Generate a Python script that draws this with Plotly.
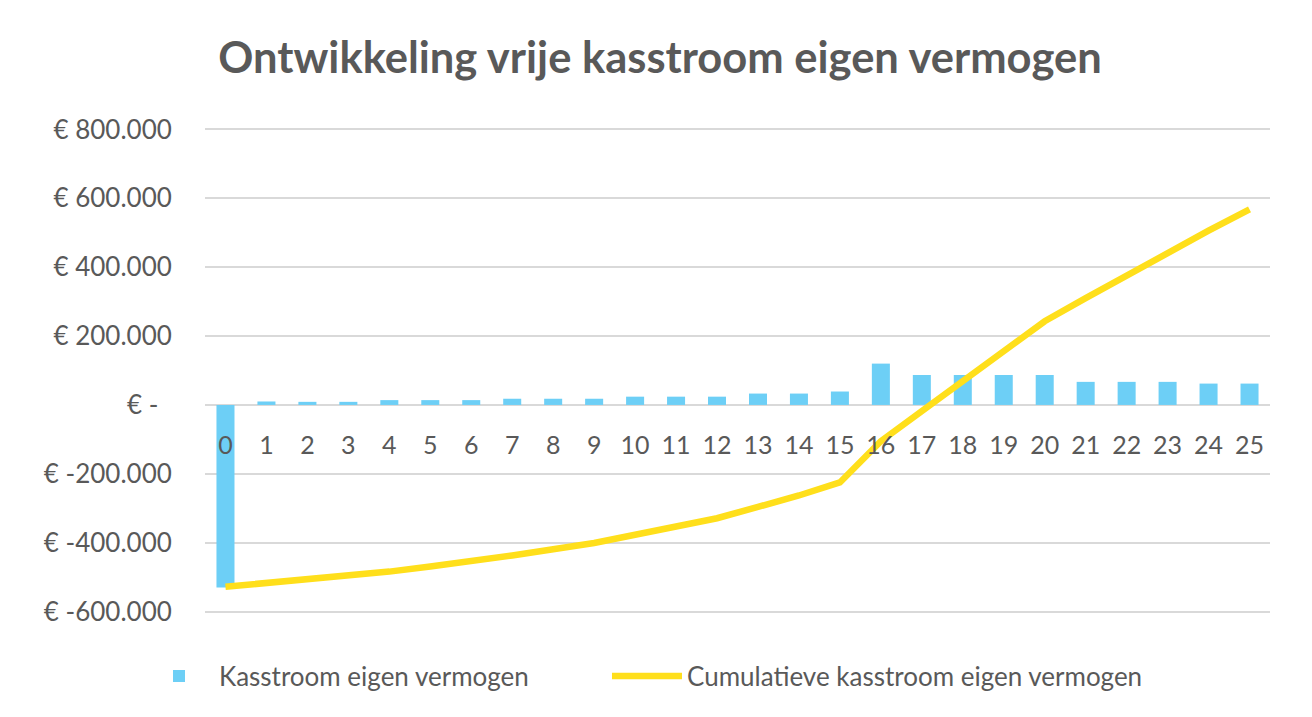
import plotly.graph_objects as go

# Data (values in euro)
jaren = list(range(26))
kasstroom = [-530000, 10000, 9000, 9000, 14000, 14000, 14000, 18000, 18000, 18000,
             24000, 24000, 24000, 33000, 33000, 39000, 120000, 87000, 87000, 87000,
             87000, 67000, 67000, 67000, 62000, 62000]
cumulatief = [-528000, -518000, -508000, -498000, -484000, -469000, -455000, -437000,
              -419000, -401000, -377000, -353000, -329000, -296000, -263000, -225000,
              -105000, -18000, 69000, 156000, 243000, 310000, 377000, 444000, 506000,
              568000]
y_ticks = [800000, 600000, 400000, 200000, 0, -200000, -400000, -600000]
y_labels = ["€ 800.000", "€ 600.000", "€ 400.000", "€ 200.000", "€ -\u00a0\u00a0",
            "€ -200.000", "€ -400.000", "€ -600.000"]

GREY_TEXT = "#595959"
GRID = "#d9d9d9"
FONT = "Lato"
NBSP = "\u00a0"

# the page puts the figure 8px in from the top-left corner, so margins are
# measured 8px less than in the reference
W, H = 1312, 717
L, R, T, B = 197, 50, 118, 110
pw, ph = W - L - R, H - T - B
y_range = [-610000, 810000]

fig = go.Figure()

fig.add_trace(go.Bar(
    x=jaren, y=kasstroom,
    name="Kasstroom eigen vermogen" + NBSP * 11,
    marker_color="#6dcff6",
    marker_line_width=0,
))

fig.add_trace(go.Scatter(
    x=jaren, y=cumulatief,
    mode="lines",
    name="Cumulatieve kasstroom eigen vermogen",
    line=dict(color="#ffdf1b", width=6.5),
))

# grey strip of the frame on the right side
fig.add_shape(
    type="rect", xref="paper", yref="paper", layer="below",
    x0=(1296 - L) / pw, x1=(W + 10 - L) / pw,
    y0=-(B + 10) / ph, y1=(T + 10) / ph + 1,
    fillcolor="#e6e6e6", line_width=0,
)

fig.update_layout(
    width=W, height=H,
    margin=dict(l=L, r=R, t=T, b=B, pad=0),
    paper_bgcolor="white",
    plot_bgcolor="white",
    font=dict(family=FONT, color=GREY_TEXT, size=24),
    title=dict(
        text="<b>Ontwikkeling vrije kasstroom eigen vermogen</b>",
        x=652 / W, xref="container", xanchor="center",
        y=1 - 50 / H, yref="container", yanchor="middle",
        font=dict(family=FONT, size=43.5, color=GREY_TEXT),
    ),
    bargap=0.56,
    showlegend=True,
    legend=dict(
        orientation="h",
        x=(131 - L) / pw, xanchor="left",
        y=-(668 - T - ph) / ph, yanchor="middle",
        font=dict(family=FONT, size=26, color=GREY_TEXT),
        bgcolor="rgba(0,0,0,0)",
        itemwidth=70,
    ),
)

fig.update_yaxes(
    range=y_range,
    tickvals=y_ticks, ticktext=y_labels,
    showgrid=True, gridcolor=GRID, gridwidth=1.5,
    zeroline=True, zerolinecolor=GRID, zerolinewidth=1.5,
    showline=False,
    ticks="outside", ticklen=27, tickcolor="rgba(0,0,0,0)",
    tickfont=dict(size=26, color=GREY_TEXT),
)

fig.update_xaxes(
    range=[-0.5, 25.5],
    tickmode="array", tickvals=jaren, ticktext=[str(j) for j in jaren],
    showgrid=False, zeroline=False, showline=False,
    anchor="free", position=(0 - y_range[0]) / (y_range[1] - y_range[0]),
    ticks="outside", ticklen=18, tickcolor="rgba(0,0,0,0)",
    tickfont=dict(size=25, color=GREY_TEXT),
)

fig.write_html("out.html")
